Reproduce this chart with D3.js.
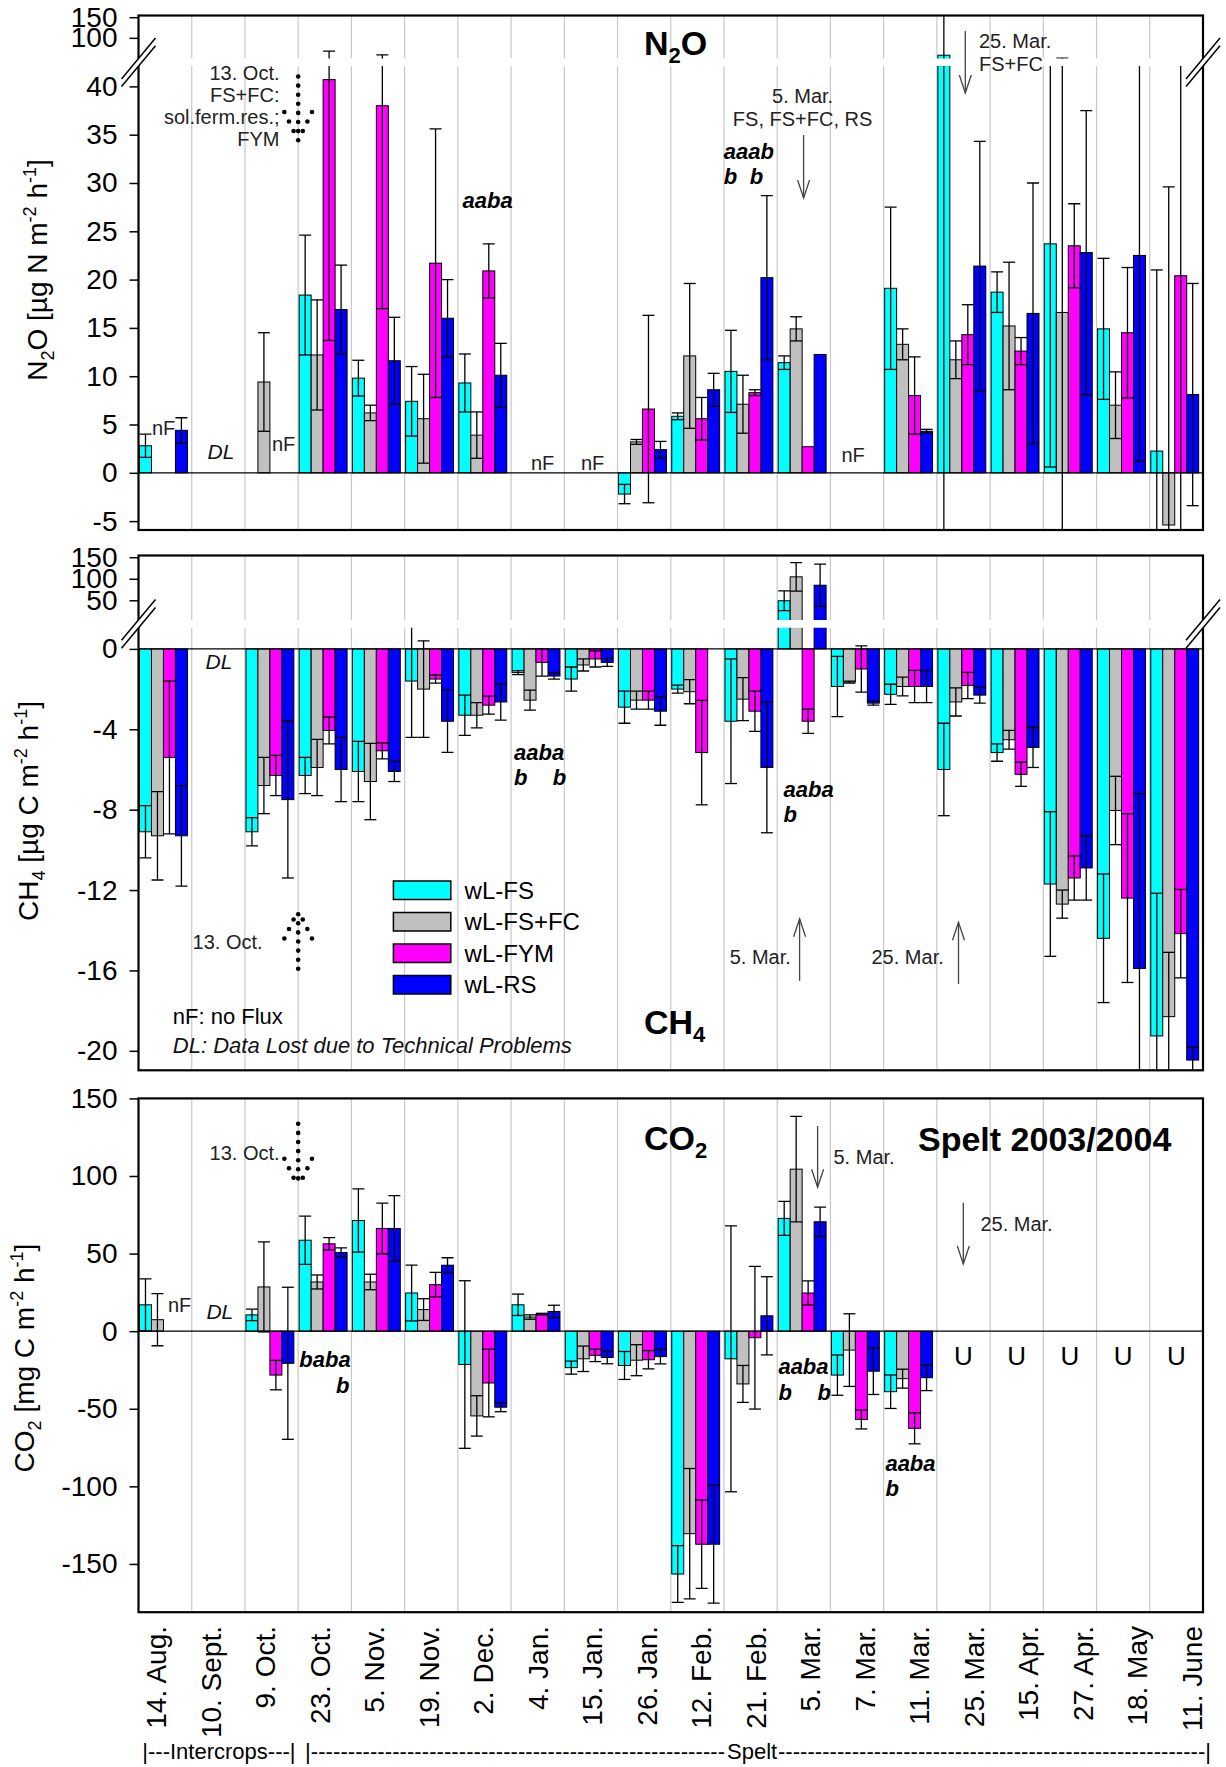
<!DOCTYPE html>
<html>
<head>
<meta charset="utf-8">
<script src="https://cdn.jsdelivr.net/npm/d3@7"></script>
<style>
  body { margin: 0; background: #fff; }
  svg { display: block; }
  text { font-family: "Liberation Sans", Arial, sans-serif; }
</style>
</head>
<body>
<svg id="chart" width="1226" height="1767"></svg>
<script>
const dates = ["14. Aug.", "10. Sept.", "9. Oct.", "23. Oct.", "5. Nov.", "19. Nov.", "2. Dec.",
  "4. Jan.", "15. Jan.", "26. Jan.", "12. Feb.", "21. Feb.", "5. Mar.", "7. Mar.", "11. Mar.",
  "25. Mar.", "15. Apr.", "27. Apr.", "18. May", "11. June"];
const treatments = ["wL-FS", "wL-FS+FC", "wL-FYM", "wL-RS"];
const colors = ["#00ffff", "#c0c0c0", "#ff00ff", "#0000ff"];

// [mean, SE] per sampling date; null = nF / DL / U
const n2oFS   = [[2.8,1.2], null, null, [18.4,6.2], [9.8,1.85], [7.4,3.6], [9.3,3.0], null, null, [-2.2,1.0], [5.85,0.35], [10.5,4.25], [11.4,0.7], null, [19.1,8.4], [58,100], [18.7,2.1], [23.7,23.1], [14.9,7.3], [2.25,18.75]];
const n2oFSFC = [null, null, [9.4,5.1], [12.2,5.7], [6.2,0.8], [5.6,4.6], [3.9,2.4], null, null, [3.2,0.25], [12.1,7.5], [7.1,3.0], [14.9,1.25], null, [13.3,1.6], [11.7,1.95], [15.2,6.6], [16.6,34.5], [7.0,3.45], [-5.4,35]];
const n2oFYM  = [null, null, null, [40.7,27], [38.0,21], [21.7,13.9], [20.9,2.8], null, null, [6.6,9.7], [5.6,2.2], [8.3,0.3], [2.7,0], null, [8.0,4.0], [14.3,3.1], [12.6,1.4], [23.5,4.35], [14.5,6.75], [20.4,27]];
const n2oRS   = [[4.4,1.3], null, null, [16.9,4.6], [11.6,4.5], [16.0,4.0], [10.1,3.3], null, null, [2.4,0.85], [8.6,1.7], [20.2,8.5], [12.25,0], null, [4.3,0.2], [21.4,12.9], [16.5,13.5], [22.8,14.7], [22.5,21.3], [8.1,11.5]];

const ch4FS   = [[-9.1,1.3], null, [-9.1,0.7], [-6.3,0.9], [-6.1,1.5], [-1.6,2.8], [-3.3,1.0], [-1.18,0.1], [-1.5,0.6], [-2.9,0.8], [-2.0,0.2], [-3.6,3.1], [49,23], [-1.87,1.5], [-2.26,0.5], [-6.0,2.3], [-5.16,0.43], [-11.7,3.6], [-14.4,3.2], [-19.26,7.1]];
const ch4FSFC = [[-9.3,2.2], null, [-6.8,1.4], [-5.9,1.4], [-6.6,1.9], [-2.0,2.4], [-3.3,0.63], [-2.55,0.5], [-0.8,0.3], [-2.55,0.45], [-2.13,0.6], [-2.5,1.07], [104.5,33], [-1.65,0.05], [-1.87,0.47], [-2.64,0.7], [-4.52,0.47], [-12.7,0.7], [-8.04,1.7], [-18.3,3.2]];
const ch4FYM  = [[-5.4,3.8], null, [-6.3,1.0], [-4.06,0.67], [-5.07,0.4], [-1.5,0.2], [-2.8,0.45], [-0.67,0.68], [-0.5,0.4], [-2.55,0.45], [-5.16,2.6], [-3.1,1.0], [-3.6,0.6], [-1.0,1.15], [-1.87,0.8], [-1.82,0.65], [-6.24,0.6], [-11.4,1.1], [-12.4,4.2], [-14.17,2.2]];
const ch4RS   = [[-9.3,2.5], null, [-7.5,3.9], [-6.0,1.6], [-6.1,0.5], [-3.6,1.55], [-2.64,0.9], [-1.35,0.15], [-0.67,0.2], [-3.1,0.7], null, [-5.9,3.25], [85,49], [-2.7,0.1], [-1.87,0.8], [-2.3,0.4], [-4.9,1.0], [-10.9,1.6], [-15.9,8.7], [-20.46,0.65]];

const co2FS   = [[17,16.7], null, [10.5,3.7], [58.6,15.5], [71.3,20.4], [24.6,18], [-21.5,54], [17,6.9], [-23.5,4.2], [-22.1,9], [-156.5,18.3], [-17.8,85.7], [72.7,11], [-28.3,13], [-39,10.8], null, null, null, null, null];
const co2FSFC = [[7.4,16.8], null, [28.5,29], [31.7,4.5], [31.7,5], [13.9,7], [-54.6,13], [9.1,1.4], [-17.8,8.2], [-18.7,10], [-130.5,42], [-34,11.9], [104.4,34], [-12.2,23.4], [-30.6,6.1], null, null, null, null, null];
const co2FYM  = [null, null, [-28.3,9.5], [56.3,4], [66.2,16.3], [30,7.9], [-33.4,21.8], [11,0.5], [-15.6,4], [-18.4,5.9], [-137.3,28.5], [-4.2,46], [24.6,7.8], [-56.9,6.1], [-62.6,10], null, null, null, null, null];
const co2RS   = [null, null, [-20.7,49], [50.7,3], [66.2,21.2], [42.5,4.8], [-49,2.9], [12.7,4], [-17,4], [-16.4,4.7], [-137.3,38], [9.9,25.2], [70.5,9.5], [-25.8,15], [-30,8.3], null, null, null, null, null];

const n2oTicksUp = [100, 150], n2oTicksLow = [-5, 0, 5, 10, 15, 20, 25, 30, 35, 40];
const ch4TicksUp = [50, 100, 150], ch4TicksLow = [-20, -16, -12, -8, -4, 0];
const co2Ticks = [-150, -100, -50, 0, 50, 100, 150];

const svg = d3.select("#chart");
const L = 138.5, R = 1203;
const x = d3.scaleBand().domain(dates).range([L, R]);
const bw = x.bandwidth() * 0.225;

const panels = [
  { id: "n2o", data: [n2oFS, n2oFSFC, n2oFYM, n2oRS], top: 15.5, bottom: 530,
    segs: [{ dom: [50, 154.1], rng: [58.5, 15.5], ticks: n2oTicksUp },
           { dom: [-5.92, 42.1], rng: [530, 66.1], ticks: n2oTicksLow }] },
  { id: "ch4", data: [ch4FS, ch4FSFC, ch4FYM, ch4RS], top: 555.5, bottom: 1070.3,
    segs: [{ dom: [4.5, 154], rng: [619.9, 555.5], ticks: ch4TicksUp },
           { dom: [-20.97, 1.05], rng: [1070.3, 627.8], ticks: ch4TicksLow }] },
  { id: "co2", data: [co2FS, co2FSFC, co2FYM, co2RS], top: 1098.4, bottom: 1612.2,
    segs: [{ dom: [-181.1, 150], rng: [1612.2, 1098.4], ticks: co2Ticks }] }
];

panels.forEach(p => {
  p.segs.forEach((s, si) => {
    const y = d3.scaleLinear().domain(s.dom).range(s.rng);
    const cid = `clip-${p.id}-${si}`;
    svg.append("clipPath").attr("id", cid).append("rect")
      .attr("x", L).attr("y", s.rng[1]).attr("width", R - L).attr("height", s.rng[0] - s.rng[1]);
    const g = svg.append("g").attr("clip-path", `url(#${cid})`);

    g.selectAll("line.grid").data(dates.slice(1)).join("line")
      .attr("x1", d => x(d)).attr("x2", d => x(d))
      .attr("y1", s.rng[1]).attr("y2", s.rng[0])
      .attr("stroke", "#c8c8c8").attr("stroke-width", 1.2);

    p.data.forEach((arr, k) => {
      const pts = arr.map((v, i) => v && { date: dates[i], m: v[0], se: v[1] }).filter(Boolean);
      const bx = d => x(d.date) + 1 + k * bw;
      g.append("g").selectAll("rect").data(pts).join("rect")
        .attr("x", bx).attr("width", bw)
        .attr("y", d => y(Math.max(0, d.m)))
        .attr("height", d => Math.abs(y(0) - y(d.m)))
        .attr("fill", colors[k]).attr("stroke", "#000").attr("stroke-width", 1);

      const err = g.append("g").attr("stroke", "#000").attr("stroke-width", 1.3);
      const ep = pts.filter(d => d.se > 0);
      err.selectAll("line.v").data(ep).join("line")
        .attr("x1", d => bx(d) + bw / 2).attr("x2", d => bx(d) + bw / 2)
        .attr("y1", d => y(d.m - d.se)).attr("y2", d => y(d.m + d.se));
      [-1, 1].forEach(sign => {
        err.selectAll(null).data(ep).join("line")
          .attr("x1", d => bx(d)).attr("x2", d => bx(d) + bw)
          .attr("y1", d => y(d.m + sign * d.se)).attr("y2", d => y(d.m + sign * d.se));
      });
    });

    if (s.dom[0] < 0 && s.dom[1] > 0) {
      g.append("line").attr("x1", L).attr("x2", R).attr("y1", y(0)).attr("y2", y(0))
        .attr("stroke", "#000").attr("stroke-width", 1.2);
    }

    svg.append("g").attr("transform", `translate(${L},0)`)
      .call(d3.axisLeft(y).tickValues(s.ticks).tickSize(9).tickPadding(12).tickFormat(d => String(d)))
      .call(a => a.select(".domain").remove())
      .call(a => a.selectAll("line").attr("stroke-width", 1.5))
      .call(a => a.selectAll("text").attr("font-size", 28).attr("fill", "#000"));
  });

  svg.append("rect").attr("x", L).attr("y", p.top).attr("width", R - L).attr("height", p.bottom - p.top)
    .attr("fill", "none").attr("stroke", "#000").attr("stroke-width", 2.2);

  // axis break marks
  if (p.segs.length === 2) {
    const gTop = p.segs[0].rng[0], gBot = p.segs[1].rng[1];
    [L, R].forEach(ax => {
      const k = 1.2, w = 17;
      svg.append("polygon")
        .attr("points", [[ax - 4, gTop + 4 * k], [ax + 4, gTop - 4 * k], [ax + 4, gBot - 4 * k], [ax - 4, gBot + 4 * k]].join(" "))
        .attr("fill", "#fff");
      [gTop, gBot].forEach(yy => {
        svg.append("line").attr("x1", ax - w).attr("y1", yy + w * k).attr("x2", ax + w).attr("y2", yy - w * k)
          .attr("stroke", "#000").attr("stroke-width", 1.5);
      });
    });
  }
});

// y-axis titles: [text, "sub" | "sup" | undefined]
function yTitle(bx, cy, parts) {
  const t = svg.append("text").attr("transform", `translate(${bx},${cy}) rotate(-90)`)
    .attr("text-anchor", "middle").attr("font-size", 28);
  let shift = 0;
  parts.forEach(([s, kind]) => {
    const target = kind === "sub" ? 7 : kind === "sup" ? -11 : 0;
    const ts = t.append("tspan").text(s);
    if (target !== shift) ts.attr("dy", target - shift);
    if (kind) ts.attr("font-size", 18);
    shift = target;
  });
}
yTitle(47, 270, [["N"], ["2", "sub"], ["O [µg N m"], ["-2", "sup"], [" h"], ["-1", "sup"], ["]"]]);
yTitle(38, 811, [["CH"], ["4", "sub"], [" [µg C m"], ["-2", "sup"], [" h"], ["-1", "sup"], ["]"]]);
yTitle(34, 1358, [["CO"], ["2", "sub"], [" [mg C m"], ["-2", "sup"], [" h"], ["-1", "sup"], ["]"]]);

// x labels
const xl = d3.scalePoint().domain(dates).range([156, 1192]);
svg.append("g").selectAll("text").data(dates).join("text")
  .attr("transform", d => `translate(${xl(d) + 10},1626) rotate(-90)`)
  .attr("text-anchor", "end").attr("font-size", 28).text(d => d);

// panel titles
function chemTitle(x0, y0, a, sub, b) {
  const t = svg.append("text").attr("x", x0).attr("y", y0).attr("font-size", 34).attr("font-weight", "bold");
  t.append("tspan").text(a);
  t.append("tspan").attr("font-size", 22).attr("dy", 8).text(sub);
  if (b) t.append("tspan").attr("dy", -8).text(b);
}
chemTitle(644, 55, "N", "2", "O");
chemTitle(644, 1034, "CH", "4", "");
chemTitle(644, 1150, "CO", "2", "");
svg.append("text").attr("x", 918).attr("y", 1151).attr("font-size", 34).attr("font-weight", "bold").text("Spelt 2003/2004");

// annotations
const notes = [
  ["13. Oct.", 279.5, 80, "end"], ["FS+FC:", 279.5, 101.6, "end"], ["sol.ferm.res.;", 279.5, 124, "end"], ["FYM", 279.5, 146.4, "end"],
  ["5. Mar.", 802.6, 103.3, "middle"], ["FS, FS+FC, RS", 802.6, 125.7, "middle"],
  ["25. Mar.", 979, 48.2], ["FS+FC", 979, 70.6],
  ["nF", 152, 434.6], ["nF", 272, 451], ["nF", 531, 470], ["nF", 581, 470], ["nF", 841.5, 461.5],
  ["13. Oct.", 192.6, 948.8], ["5. Mar.", 729.7, 963.6], ["25. Mar.", 871.5, 963.6],
  ["nF: no Flux", 172.8, 1023.9, "start", 22, "#000"],
  ["13. Oct.", 209.6, 1159.7], ["nF", 168, 1312.2], ["5. Mar.", 833.5, 1164], ["25. Mar.", 980.4, 1231]
];
notes.forEach(([t, xx, yy, anchor, size, fill]) => {
  svg.append("text").attr("x", xx).attr("y", yy).attr("text-anchor", anchor || "start")
    .attr("font-size", size || 20).attr("fill", fill || "#222").text(t);
});
const italics = [["DL", 207.6, 458.7], ["DL", 205.6, 669], ["DL", 206.4, 1318.8],
  ["DL: Data Lost due to Technical Problems", 172.8, 1053]];
italics.forEach(([t, xx, yy]) => {
  svg.append("text").attr("x", xx).attr("y", yy).attr("font-size", t.length > 3 ? 22 : 21)
    .attr("font-style", "italic").attr("fill", "#111").text(t);
});
const letters = [["aaba", 462.6, 208], ["aaab", 723.8, 159], ["b", 723.8, 184.3], ["b", 749.7, 184.3],
  ["aaba", 514, 760.4], ["b", 514, 785.2], ["b", 552.8, 785.2], ["aaba", 783.6, 796.6], ["b", 783.6, 822.4],
  ["baba", 299.3, 1367], ["b", 336, 1393.2], ["aaba", 778.4, 1374.4], ["b", 778.4, 1399.8], ["b", 817.6, 1399.8],
  ["aaba", 885.4, 1471.2], ["b", 885.4, 1496.2]];
letters.forEach(([t, xx, yy]) => {
  svg.append("text").attr("x", xx).attr("y", yy).attr("font-size", 22)
    .attr("font-weight", "bold").attr("font-style", "italic").text(t);
});
dates.slice(15).forEach(d => {
  svg.append("text").attr("x", x(d) + x.bandwidth() / 2).attr("y", 1365).attr("text-anchor", "middle")
    .attr("font-size", 26).text("U");
});

// arrows
function arrow(ax, tail, tip) {
  const dir = Math.sign(tip - tail);
  const g = svg.append("g").attr("stroke", "#444").attr("stroke-width", 1.3).attr("fill", "none");
  g.append("line").attr("x1", ax).attr("x2", ax).attr("y1", tail).attr("y2", tip);
  g.append("polyline").attr("points", `${ax - 6},${tip - dir * 18} ${ax},${tip} ${ax + 6},${tip - dir * 18}`);
}
arrow(803.6, 135, 198); arrow(965.3, 31, 93);
arrow(799.6, 980.8, 918.8); arrow(958.5, 984, 922.3);
arrow(817.6, 1126, 1187.3); arrow(963.3, 1202.7, 1264);

// dotted arrows for the 13. Oct. fertilisation
function dotArrow(ax, tail, tip) {
  const dir = Math.sign(tip - tail);
  const pts = [];
  for (let yy = tail; dir * (tip - yy) >= -0.1; yy += dir * 9.1) pts.push([ax, yy]);
  [1, 2, 3].forEach(k => { pts.push([ax - 4.6 * k, tip - dir * 9.5 * k]); pts.push([ax + 4.6 * k, tip - dir * 9.5 * k]); });
  svg.append("g").selectAll("circle").data(pts).join("circle")
    .attr("cx", d => d[0]).attr("cy", d => d[1]).attr("r", 2.3).attr("fill", "#000");
}
dotArrow(x("23. Oct."), 76.5, 140.5);
dotArrow(x("23. Oct."), 968.8, 910);
dotArrow(x("23. Oct."), 1123.8, 1187.3);

// legend
const lg = svg.append("g");
treatments.forEach((t, i) => {
  const yy = 881 + i * 31.5;
  lg.append("rect").attr("x", 393.4).attr("y", yy).attr("width", 57.4).attr("height", 18.5)
    .attr("fill", colors[i]).attr("stroke", "#000").attr("stroke-width", 1.5);
  lg.append("text").attr("x", 464.6).attr("y", yy + 17.5).attr("font-size", 24).text(t);
});

// period line under the axis labels
svg.append("text").attr("x", 142.3).attr("y", 1759).attr("font-size", 22).text("|---Intercrops---|");
svg.append("text").attr("x", 305).attr("y", 1759).attr("font-size", 22)
  .attr("textLength", 420).attr("lengthAdjust", "spacing").text("|" + "-".repeat(56));
svg.append("text").attr("x", 727).attr("y", 1759).attr("font-size", 22).text("Spelt");
svg.append("text").attr("x", 778).attr("y", 1759).attr("font-size", 22)
  .attr("textLength", 433).attr("lengthAdjust", "spacing").text("-".repeat(58) + "|");
</script>
</body>
</html>
